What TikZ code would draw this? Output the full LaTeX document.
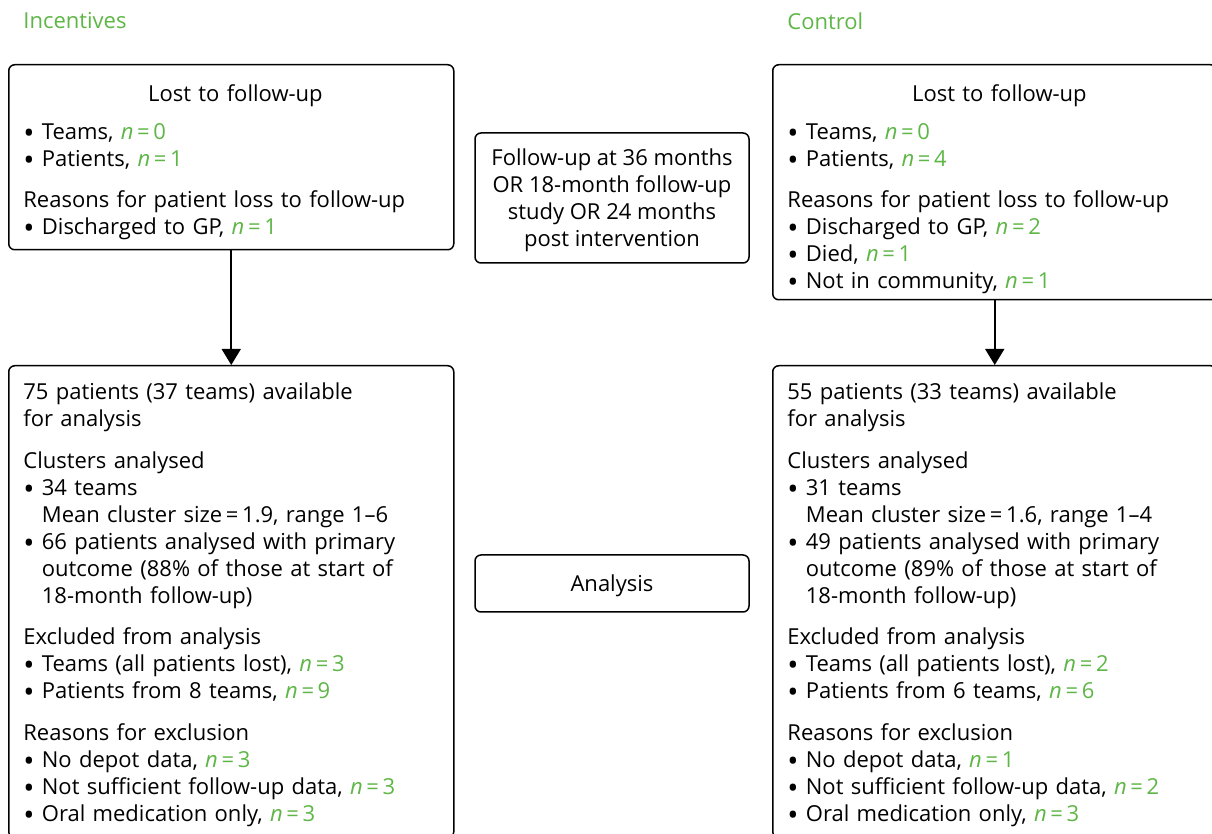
\documentclass[tikz,border=0pt]{standalone}
\usepackage{fontspec}
\setmainfont{Open Sans}
\usetikzlibrary{arrows.meta}
\definecolor{gg}{RGB}{94,182,70}
\newcommand{\nn}[1]{{\color{gg}\textit{n}\,=\,#1}}
\newcommand{\bu}{\raisebox{-0.4ex}{\scalebox{1.35}{\textbullet}}\ }
\newcommand{\ind}{\hphantom{\bu}}

\begin{document}
\begin{tikzpicture}[
  every node/.style={inner sep=0pt, font=\fontsize{11}{13.5}\selectfont},
  box/.style={draw=black, line width=0.75pt, rounded corners=3pt},
  txt/.style={anchor=north west, text width=212pt, align=left},
  arr/.style={line width=0.8pt, -{Triangle[width=9.5pt,length=8pt]}}
]
\useasboundingbox (0pt,0pt) rectangle (606pt,-417pt);

% arm labels
\node (incL) [anchor=west, text=gg] at (11.5pt, -10.5pt) {Incentives};
\node (conL) [anchor=west, text=gg] at (393.5pt, -10.5pt) {Control};

% boxes
\node (lostL) [box, anchor=north west, minimum width=222.5pt, minimum height=92.5pt] at (4.0pt, -32.0pt) {};
\node (lostR) [box, anchor=north west, minimum width=222.0pt, minimum height=117.5pt] at (386.0pt, -32.0pt) {};
\node (availL) [box, anchor=north west, minimum width=222.5pt, minimum height=236.0pt] at (4.0pt, -182.5pt) {};
\node (availR) [box, anchor=north west, minimum width=222.0pt, minimum height=236.0pt] at (386.0pt, -182.5pt) {};
\node (fu) [box, minimum width=137.0pt, minimum height=65.0pt, align=center] at (306.0pt, -99.0pt) {};
\node (futxt) [align=center] at (306.0pt, -100.0pt) {Follow-up at 36 months\\OR 18-month follow-up\\study OR 24 months\\post intervention};
\node (anl) [box, minimum width=137.0pt, minimum height=28.5pt] at (306.0pt, -291.75pt) {};
\node (anltxt) at (306.0pt, -292.75pt) {Analysis};

% box texts
\node (lostLtxt) [txt] at (11.5pt, -42.0pt) {{\centering Lost to follow-up\par}\vspace{5.5pt}
\bu Teams, \nn{0}\\
\bu Patients, \nn{1}\\[7pt]
Reasons for patient loss to follow-up\\
\bu Discharged to GP, \nn{1}};
\node (lostRtxt) [txt] at (393.5pt, -42.0pt) {{\centering Lost to follow-up\par}\vspace{5.5pt}
\bu Teams, \nn{0}\\
\bu Patients, \nn{4}\\[7pt]
Reasons for patient loss to follow-up\\
\bu Discharged to GP, \nn{2}\\
\bu Died, \nn{1}\\
\bu Not in community, \nn{1}};
\node (availLtxt) [txt] at (11.5pt, -191.0pt) {75 patients (37 teams) available\\
for analysis\\[7.5pt]
Clusters analysed\\
\bu 34 teams\\
\ind Mean cluster size\,=\,1.9, range 1--6\\
\bu 66 patients analysed with primary\\
\ind outcome (88\% of those at start of\\
\ind 18-month follow-up)\\[7pt]
Excluded from analysis\\
\bu Teams (all patients lost), \nn{3}\\
\bu Patients from 8 teams, \nn{9}\\[7.5pt]
Reasons for exclusion\\
\bu No depot data, \nn{3}\\
\bu Not sufficient follow-up data, \nn{3}\\
\bu Oral medication only, \nn{3}};
\node (availRtxt) [txt] at (393.5pt, -191.0pt) {55 patients (33 teams) available\\
for analysis\\[7.5pt]
Clusters analysed\\
\bu 31 teams\\
\ind Mean cluster size\,=\,1.6, range 1--4\\
\bu 49 patients analysed with primary\\
\ind outcome (89\% of those at start of\\
\ind 18-month follow-up)\\[7pt]
Excluded from analysis\\
\bu Teams (all patients lost), \nn{2}\\
\bu Patients from 6 teams, \nn{6}\\[7.5pt]
Reasons for exclusion\\
\bu No depot data, \nn{1}\\
\bu Not sufficient follow-up data, \nn{2}\\
\bu Oral medication only, \nn{3}};

% arrows
\draw [arr] (lostL) to (availL);
\draw [arr] (lostR) to (availR);
\end{tikzpicture}
\end{document}
